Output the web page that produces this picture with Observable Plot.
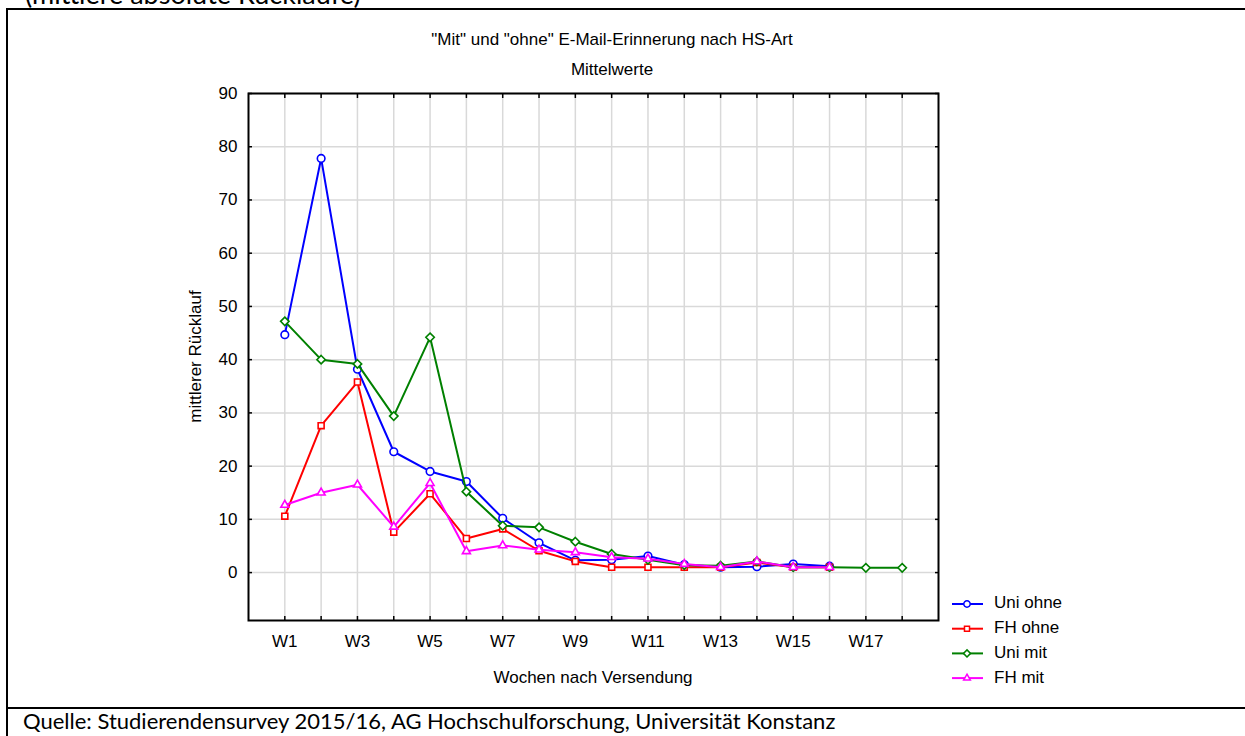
<!DOCTYPE html>
<html>
<head>
<meta charset="utf-8">
<script src="https://cdn.jsdelivr.net/npm/d3@7"></script>
<script src="https://cdn.jsdelivr.net/npm/@observablehq/plot@0.6"></script>
<style>
  html, body { margin: 0; padding: 0; background: #fff; }
  #wrap { position: relative; width: 1245px; height: 736px; overflow: hidden; background: #fff; }
  #chart { position: absolute; left: 0; top: 0; }
  .bar { position: absolute; background: #000; }
  .calib { position: absolute; font-family: Lato, "Open Sans", sans-serif; color: #000; white-space: nowrap; line-height: 1.2; }
</style>
</head>
<body>
<div id="wrap">
  <div id="chart"></div>
  <div class="calib" style="left:25px; top:-22px; font-size:27px;">(mittlere absolute Rückläufe)</div>
  <div class="bar" style="left:6px; top:8px; width:1239px; height:2px;"></div>
  <div class="bar" style="left:6px; top:8px; width:2px; height:728px;"></div>
  <div class="bar" style="left:6px; top:707px; width:1239px; height:2px;"></div>
  <div class="calib" style="left:23px; top:708px; font-size:22px;">Quelle: Studierendensurvey 2015/16, AG Hochschulforschung, Universität Konstanz</div>
</div>
<script>
// ---- data ----
const seriesNames = ["Uni ohne", "FH ohne", "Uni mit", "FH mit"];
const seriesColors = ["#0000ff", "#ff0000", "#008000", "#ff00ff"];
const seriesSymbols = ["circle", "square2", "diamond2", "triangle2"];
const weeks = [1,2,3,4,5,6,7,8,9,10,11,12,13,14,15,16,17,18];
const weekLabels = ["W1","","W3","","W5","","W7","","W9","","W11","","W13","","W15","","W17",""];
const yTicks = [0,10,20,30,40,50,60,70,80,90];

const uniOhne = [44.7, 77.8, 38.2, 22.7, 19.0, 17.1, 10.2, 5.6, 2.3, 2.4, 3.1, 1.5, 1.0, 1.1, 1.6, 1.2];
const fhOhne  = [10.6, 27.6, 35.8, 7.6, 14.8, 6.4, 8.2, 4.1, 2.1, 1.0, 1.0, 1.0, 1.0, 1.9, 1.0, 1.0];
const uniMit  = [47.2, 40.0, 39.2, 29.4, 44.2, 15.2, 8.8, 8.5, 5.8, 3.5, 2.4, 1.4, 1.3, 2.1, 1.0, 1.0, 0.9, 0.9];
const fhMit   = [12.7, 15.0, 16.5, 8.6, 16.8, 4.0, 5.1, 4.3, 3.8, 2.9, 2.6, 1.6, 1.0, 2.1, 1.0, 1.0];

const titleText = "\"Mit\" und \"ohne\" E-Mail-Erinnerung nach HS-Art";
const subtitleText = "Mittelwerte";
const xLabel = "Wochen nach Versendung";
const yLabel = "mittlerer Rücklauf";

// ---- build table ----
const valuesBySeries = [uniOhne, fhOhne, uniMit, fhMit];
const data = valuesBySeries.flatMap((vals, s) =>
  vals.map((v, i) => ({ week: weeks[i], value: v, series: seriesNames[s] })));

const font = "'Liberation Sans', Arial, sans-serif";
const fs = 17;

const seriesMarks = seriesNames.flatMap(name => [
  Plot.line(data, { filter: d => d.series === name, x: "week", y: "value", stroke: "series", strokeWidth: 2 }),
  Plot.dot(data, { filter: d => d.series === name, x: "week", y: "value", stroke: "series", symbol: "series", fill: "white", r: 3.8, strokeWidth: 1.6 })
]);

const chart = Plot.plot({
  width: 1245,
  height: 700,
  marginLeft: 248,
  marginRight: 307,
  marginTop: 93,
  marginBottom: 80,
  style: { fontFamily: font, fontSize: fs + "px", background: "transparent", color: "#000", overflow: "visible" },
  x: { domain: [0, 19], label: null },
  y: { domain: [-9, 90], label: null },
  color: { domain: seriesNames, range: seriesColors },
  symbol: { domain: seriesNames, range: seriesSymbols },
  marks: [
    Plot.gridX(weeks, { stroke: "#d9d9d9", strokeOpacity: 1, strokeWidth: 1.5 }),
    Plot.gridY(yTicks, { stroke: "#d9d9d9", strokeOpacity: 1, strokeWidth: 1.5 }),
    Plot.axisX({ anchor: "bottom", ticks: weeks, tickSize: -4, tickPadding: 18, strokeWidth: 1.5,
      tickFormat: d => weekLabels[weeks.indexOf(d)], label: null, fontSize: fs }),
    Plot.axisX({ anchor: "top", ticks: weeks, tickSize: -4, strokeWidth: 1.5, tickFormat: () => "", label: null }),
    Plot.axisY({ anchor: "left", ticks: yTicks, tickSize: -4, tickPadding: 15, strokeWidth: 1.5, label: null, fontSize: fs }),
    Plot.axisY({ anchor: "right", ticks: yTicks, tickSize: -4, strokeWidth: 1.5, tickFormat: () => "", label: null }),
    ...seriesMarks,
    Plot.frame({ stroke: "#000", strokeWidth: 2 })
  ]
});

document.getElementById("chart").appendChild(chart);

// ---- titles, axis labels, legend ----
const svg = d3.select(chart);
const xs = chart.scale("x"), ys = chart.scale("y");
const cx = (xs.range[0] + xs.range[1]) / 2;
const cy = (ys.range[0] + ys.range[1]) / 2;

const txt = svg.append("g").attr("font-family", font).attr("fill", "#000");
txt.append("text").attr("x", 612).attr("y", 41).attr("text-anchor", "middle")
  .attr("dominant-baseline", "middle").attr("font-size", fs).text(titleText);
txt.append("text").attr("x", 612).attr("y", 71).attr("text-anchor", "middle")
  .attr("dominant-baseline", "middle").attr("font-size", fs).text(subtitleText);
txt.append("text").attr("x", cx).attr("y", 679).attr("text-anchor", "middle")
  .attr("dominant-baseline", "middle").attr("font-size", fs).text(xLabel);
txt.append("text").attr("transform", `translate(197,${cy}) rotate(-90)`).attr("text-anchor", "middle")
  .attr("dominant-baseline", "middle").attr("font-size", fs).text(yLabel);

const symScale = { "circle": d3.symbolCircle, "square2": d3.symbolSquare2, "diamond2": d3.symbolDiamond2, "triangle2": d3.symbolTriangle2 };
const leg = svg.append("g").attr("font-family", font).attr("font-size", fs).attr("text-anchor", "start");
seriesNames.forEach((name, i) => {
  const y = 604 + i * 24.7;
  const color = seriesColors[i];
  leg.append("line").attr("x1", 952).attr("x2", 983).attr("y1", y).attr("y2", y)
    .attr("stroke", color).attr("stroke-width", 2);
  leg.append("path").attr("transform", `translate(967,${y})`)
    .attr("d", d3.symbol(symScale[seriesSymbols[i]], Math.PI * 3.2 * 3.2)())
    .attr("fill", "white").attr("stroke", color).attr("stroke-width", 1.5);
  leg.append("text").attr("x", 994).attr("y", y).attr("text-anchor", "start")
    .attr("dominant-baseline", "middle").text(name);
});
</script>
</body>
</html>
